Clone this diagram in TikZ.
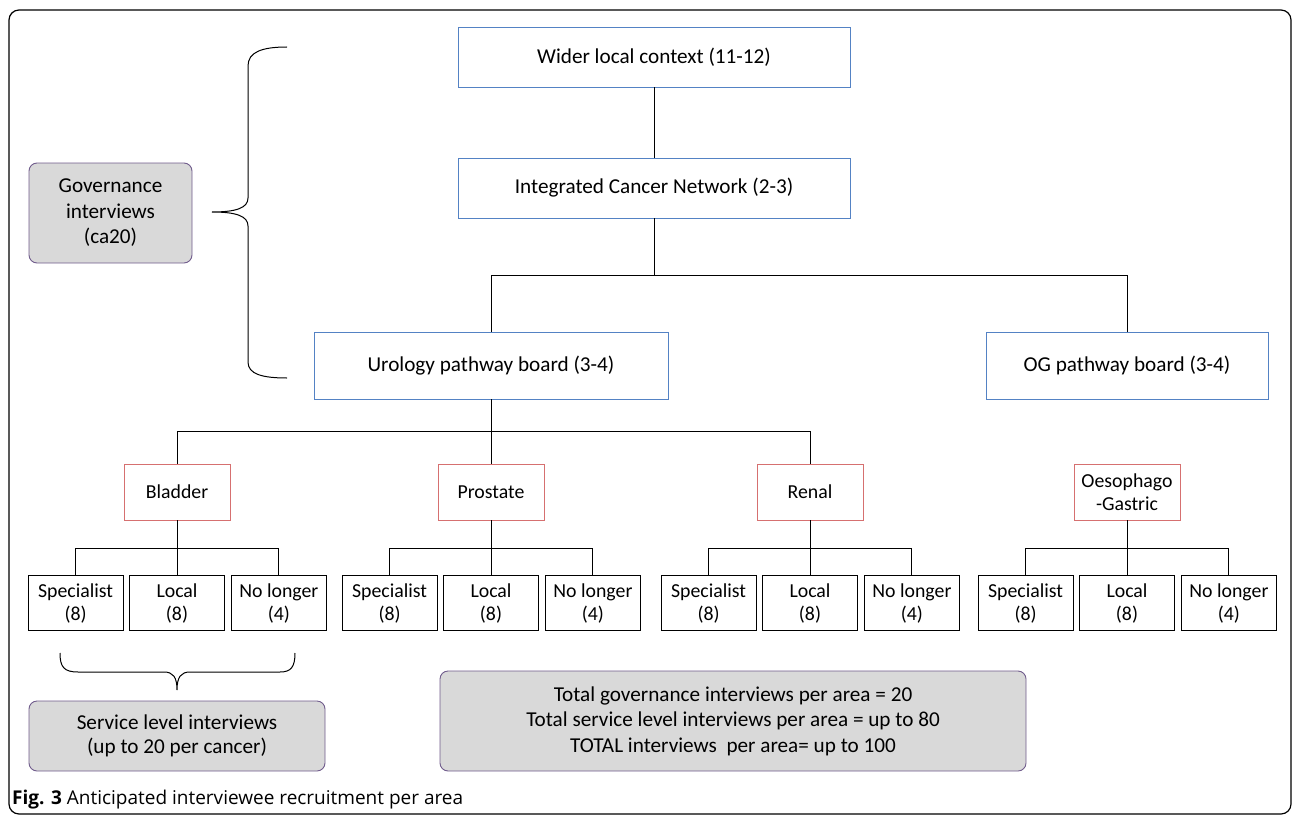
\documentclass[tikz,border=0pt]{standalone}
\usepackage{fontspec}
\setmainfont{Carlito}
\newfontfamily\capfont{Open Sans}
\usetikzlibrary{positioning,calc}
\definecolor{lvlblue}{RGB}{84,130,196}
\definecolor{cancred}{RGB}{214,112,112}
\definecolor{sumfill}{RGB}{217,217,217}
\definecolor{sumdraw}{RGB}{112,92,140}

\begin{document}
\begin{tikzpicture}[
    x=1pt,y=-1pt,
    node distance=5.5pt,
    level/.style={rectangle,draw=lvlblue,line width=0.9pt,minimum width=392pt,minimum height=60pt,inner sep=0pt,align=center,font=\fontsize{21.2}{25}\selectfont},
    cancer/.style={rectangle,draw=cancred,line width=0.9pt,minimum width=106pt,minimum height=56pt,inner sep=0pt,align=center,font=\fontsize{19.8}{23}\selectfont},
    leaf/.style={rectangle,draw,line width=0.9pt,minimum width=95pt,minimum height=55pt,inner sep=0pt,align=center,font=\fontsize{19.8}{23}\selectfont},
    summary/.style={rectangle,draw=sumdraw,fill=sumfill,line width=0.9pt,rounded corners=8pt,inner sep=0pt,align=center,font=\fontsize{21.2}{25.5}\selectfont},
    tree/.style={line width=0.9pt},
    brace/.style={line width=1pt}
]
    \useasboundingbox (0,0) rectangle (1292,816);
    % Outer frame
    \draw[line width=1.2pt,rounded corners=10pt] (9,10) rectangle (1291,814);

    % Governance levels
    \node[level] (wider) at (654,57) {Wider local context (11-12)};
    \node[level] (icn) at (654,188) {Integrated Cancer Network (2-3)};
    \node[level,minimum width=354pt,minimum height=67pt] (uro) at (491,365.5) {Urology pathway board (3-4)};
    \node[level,minimum width=282pt,minimum height=67pt] (og) at (1127,365.5) {OG pathway board (3-4)};

    % Cancer types
    \node[cancer] (bl) at (177,492) {Bladder};
    \node[cancer] (pr) at (491,492) {Prostate};
    \node[cancer] (re) at (810,492) {Renal};
    \node[cancer] (oe) at (1127,492) {Oesophago\\-Gastric};

    % Service level leaves
    \foreach \c in {bl,pr,re,oe} {
        \node[leaf,below=55pt of \c.south,anchor=north] (\c-l) {Local\\(8)};
        \node[leaf,left=of \c-l] (\c-s) {Specialist\\(8)};
        \node[leaf,right=6pt of \c-l] (\c-n) {No longer\\(4)};
        \draw[tree] (\c.south) -- (\c-l.north);
        \draw[tree] (\c-s.north) |- ($(\c.south)!0.5!(\c-l.north)$) -| (\c-n.north);
    }

    % Tree connectors
    \draw[tree] (wider.south) -- (icn.north);
    \draw[tree] (icn.south) -- ($(icn.south)!0.5!(icn.south |- uro.north)$);
    \draw[tree] (uro.north) |- ($(og.north)!0.5!(og.north |- icn.south)$) -- (og.north);
    \draw[tree] (uro.south) -- ($(uro.south)!0.5!(uro.south |- pr.north)$);
    \draw[tree] (bl.north) |- ($(pr.north)!0.5!(pr.north |- uro.south)$) -| (re.north);
    \draw[tree] (pr.north) -- ($(pr.north)!0.5!(pr.north |- uro.south)$);

    % Summary boxes
    \node[summary,minimum width=163pt,minimum height=100pt] (gov) at (110.5,213) {Governance\\interviews\\(ca20)};
    \node[summary,minimum width=296pt,minimum height=70pt,font=\fontsize{21.2}{24}\selectfont] (serv) at (177,736) {Service level interviews\\(up to 20 per cancer)};
    \node[summary,minimum width=586pt,minimum height=100pt] (tot) at (733,721) {Total governance interviews per area = 20\\Total service level interviews per area = up to 80\\TOTAL interviews~ per area= up to 100};

    % Braces
    \draw[brace] (287,47) .. controls (262,47) and (248,52) .. (248,66) -- (248,198)
        .. controls (248,208) and (236,212) .. (212,212)
        .. controls (236,212) and (248,216) .. (248,226) -- (248,362)
        .. controls (248,374) and (262,378) .. (287,378);
    \draw[brace] (60,653) .. controls (60,667) and (64,672) .. (78,672) -- (164,672)
        .. controls (173,672) and (177,677) .. (177,690)
        .. controls (177,677) and (181,672) .. (190,672) -- (280,672)
        .. controls (291,672) and (295,667) .. (295,653);

    % Caption
    \node[anchor=base west,inner sep=0pt,font=\capfont\fontsize{19}{22}\selectfont] (cap) at (12,804) {\textbf{Fig. 3} Anticipated interviewee recruitment per area};
\end{tikzpicture}
\end{document}
